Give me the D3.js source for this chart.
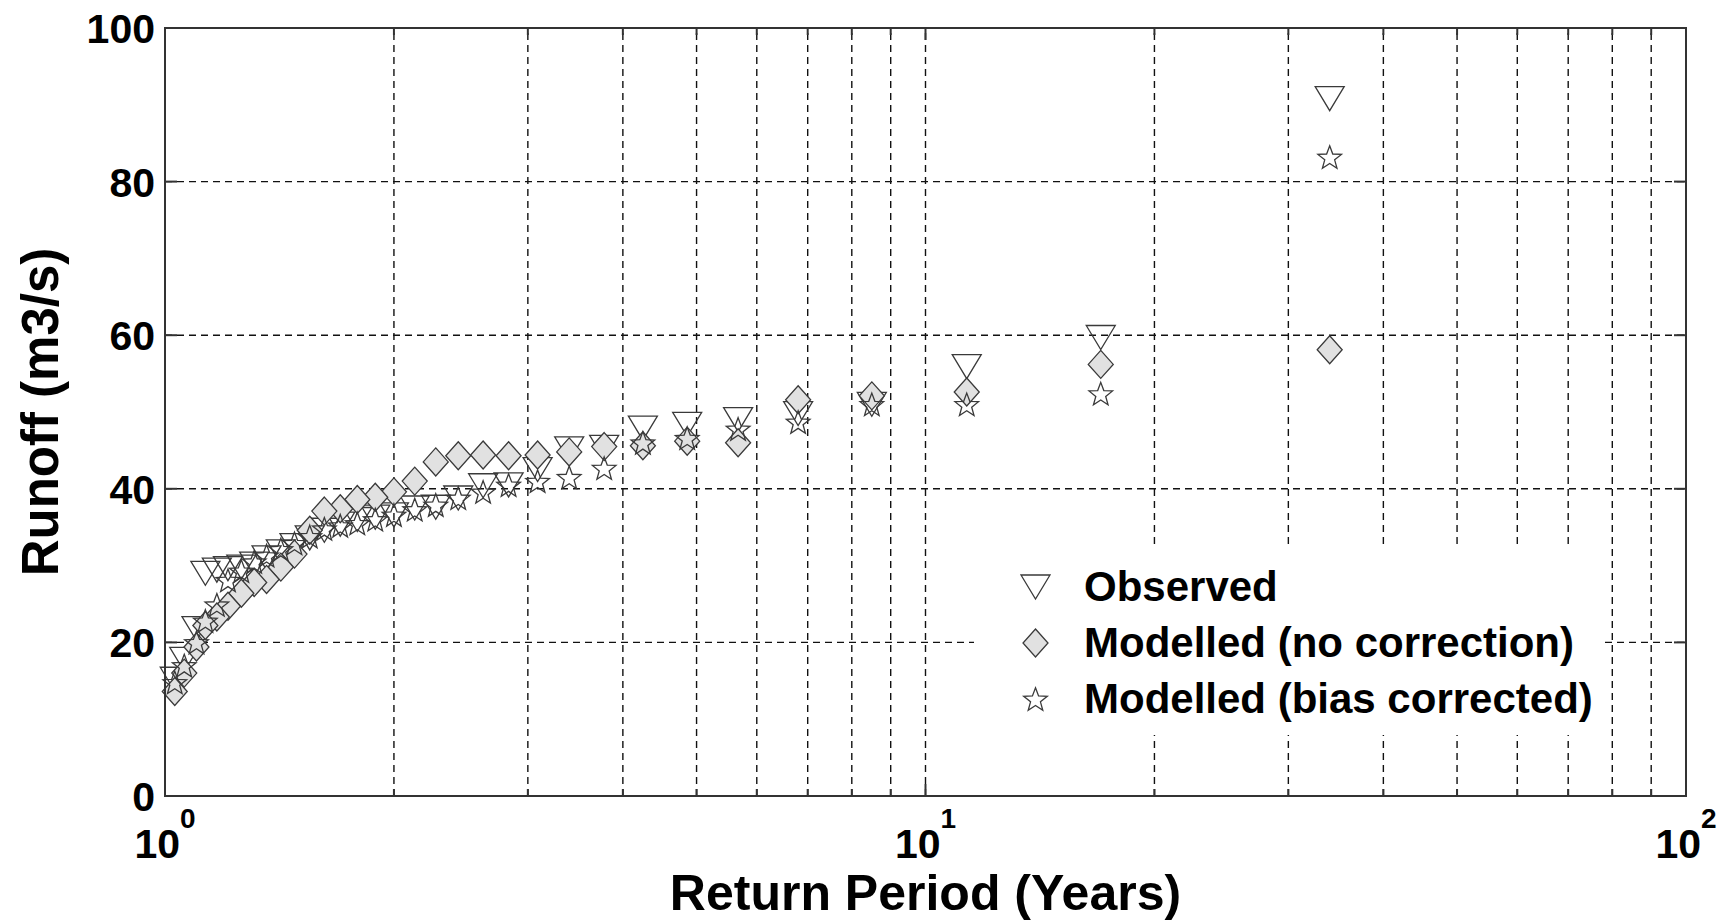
<!DOCTYPE html>
<html>
<head>
<meta charset="utf-8">
<script src="https://cdn.jsdelivr.net/npm/d3@7/dist/d3.min.js"></script>
<style>
  html, body { margin: 0; padding: 0; background: #fff; }
  svg { display: block; }
  text { font-family: "Liberation Sans", Arial, sans-serif; font-weight: bold; fill: #000; }
</style>
</head>
<body>
<svg id="chart" width="1728" height="924"></svg>
<script>
// ---- data ----
const returnPeriod = [34, 17, 11.33, 8.5, 6.8, 5.67, 4.86, 4.25, 3.78, 3.4, 3.09, 2.83, 2.62, 2.43, 2.27, 2.13, 2.0, 1.89, 1.79, 1.7, 1.62, 1.55, 1.48, 1.42, 1.36, 1.31, 1.26, 1.21, 1.17, 1.13, 1.10, 1.06, 1.03];
const observed = [90.8, 59.7, 55.9, 51.0, 49.8, 49.0, 48.4, 47.9, 45.4, 45.2, 42.5, 40.5, 40.4, 38.8, 37.6, 37.5, 36.6, 36.3, 36.0, 35.4, 34.6, 33.6, 32.6, 31.8, 31.0, 30.2, 29.8, 29.6, 29.4, 29.0, 21.8, 17.8, 15.2];
const modelledNoCorrection = [58.1, 56.2, 52.6, 52.1, 51.6, 46.0, 46.2, 45.6, 45.5, 44.8, 44.4, 44.3, 44.4, 44.3, 43.5, 41.0, 39.6, 38.9, 38.6, 37.4, 37.1, 34.6, 31.5, 29.8, 28.2, 27.8, 26.4, 24.7, 23.3, 22.2, 19.4, 16.0, 13.6];
const modelledBiasCorrected = [83.2, 52.4, 51.0, 51.0, 48.7, 47.8, 46.6, 46.0, 42.7, 41.5, 41.0, 40.5, 39.6, 38.8, 37.9, 37.3, 36.6, 36.0, 35.5, 35.2, 34.8, 33.8, 32.9, 32.1, 31.3, 30.5, 29.3, 28.1, 24.9, 22.8, 20.0, 17.0, 14.8];
const seriesNames = ["Observed", "Modelled (no correction)", "Modelled (bias corrected)"];
const yTicks = [0, 20, 40, 60, 80, 100];
const xMajorTicks = [1, 10, 100];
const xTickExponents = ["0", "1", "2"];
const xMinorTicks = [2, 3, 4, 5, 6, 7, 8, 9, 20, 30, 40, 50, 60, 70, 80, 90];
const xLabel = "Return Period (Years)";
const yLabel = "Runoff (m3/s)";

// ---- layout ----
const L = 165, R = 1686, T = 28, B = 796;
const svg = d3.select("#chart");
const x = d3.scaleLog().domain([1, 100]).range([L, R]);
const y = d3.scaleLinear().domain([0, 100]).range([B, T]);

// custom marker shapes for d3.symbol
const triDown = { draw(c) { c.moveTo(-14.5, -12); c.lineTo(14.5, -12); c.lineTo(0, 12); c.closePath(); } };
const diamond = { draw(c) { c.moveTo(0, -14); c.lineTo(12.5, 0); c.lineTo(0, 14); c.lineTo(-12.5, 0); c.closePath(); } };
const star = { draw(c) {
  const Ro = 12.4, Ri = Ro * 0.42, dy = 1.2;
  for (let i = 0; i < 10; i++) {
    const r = i % 2 === 0 ? Ro : Ri;
    const a = -Math.PI / 2 + i * Math.PI / 5;
    const px = r * Math.cos(a), py = r * Math.sin(a) + dy;
    if (i === 0) c.moveTo(px, py); else c.lineTo(px, py);
  }
  c.closePath();
} };
const markerStyles = [
  { type: triDown, fill: "none" },
  { type: diamond, fill: "#e1e1e1" },
  { type: star, fill: "none" }
];
const seriesData = [observed, modelledNoCorrection, modelledBiasCorrected];

// ---- grid ----
const grid = svg.append("g").attr("stroke", "#111").attr("stroke-width", 1.4).attr("stroke-dasharray", "7,5");
grid.selectAll(".hg").data(yTicks.filter(v => v > 0 && v < 100)).enter().append("line")
  .attr("x1", L).attr("x2", R).attr("y1", d => y(d)).attr("y2", d => y(d));
grid.selectAll(".vg").data(xMinorTicks.concat([10])).enter().append("line")
  .attr("y1", B).attr("y2", T).attr("x1", d => x(d)).attr("x2", d => x(d));

// ---- legend background (masks grid) ----
svg.append("rect").attr("x", 974).attr("y", 545).attr("width", 626).attr("height", 190).attr("fill", "#fff");

// ---- data markers ----
seriesData.forEach((vals, si) => {
  const sym = d3.symbol().type(markerStyles[si].type);
  svg.append("g").selectAll("path").data(vals.map((v, i) => [returnPeriod[i], v])).enter().append("path")
    .attr("d", sym)
    .attr("transform", d => `translate(${x(d[0])},${y(d[1])})`)
    .attr("fill", markerStyles[si].fill)
    .attr("stroke", "#3a3a3a").attr("stroke-width", 1.3);
});

// ---- frame & ticks ----
const axG = svg.append("g").attr("stroke", "#333").attr("stroke-width", 2);
axG.append("rect").attr("x", L).attr("y", T).attr("width", R - L).attr("height", B - T).attr("fill", "none");
yTicks.forEach(v => {
  axG.append("line").attr("x1", L).attr("x2", L + 12).attr("y1", y(v)).attr("y2", y(v));
  axG.append("line").attr("x1", R).attr("x2", R - 12).attr("y1", y(v)).attr("y2", y(v));
});
xMajorTicks.forEach(v => {
  axG.append("line").attr("x1", x(v)).attr("x2", x(v)).attr("y1", B).attr("y2", B - 12);
  axG.append("line").attr("x1", x(v)).attr("x2", x(v)).attr("y1", T).attr("y2", T + 12);
});
xMinorTicks.forEach(v => {
  axG.append("line").attr("x1", x(v)).attr("x2", x(v)).attr("y1", B).attr("y2", B - 7);
  axG.append("line").attr("x1", x(v)).attr("x2", x(v)).attr("y1", T).attr("y2", T + 7);
});

// ---- tick labels ----
svg.append("g").selectAll("text").data(yTicks).enter().append("text")
  .attr("x", 155).attr("y", d => y(d) + 15).attr("text-anchor", "end")
  .attr("font-size", 41).text(d => d);
const xt = svg.append("g").selectAll("text").data(xMajorTicks).enter().append("text")
  .attr("x", d => x(d)).attr("y", 858).attr("text-anchor", "middle").attr("font-size", 41);
xt.append("tspan").text("10");
xt.append("tspan").attr("dy", -30).attr("font-size", 28).text((d, i) => xTickExponents[i]);

// ---- axis labels ----
svg.append("text").attr("x", (L + R) / 2).attr("y", 910).attr("text-anchor", "middle")
  .attr("font-size", 50).text(xLabel);
svg.append("text").attr("transform", `translate(58,${(T + B) / 2}) rotate(-90)`)
  .attr("text-anchor", "middle").attr("font-size", 51).text(yLabel);

// ---- legend ----
const legendRows = [587, 643, 699];
seriesNames.forEach((name, i) => {
  svg.append("path").attr("d", d3.symbol().type(markerStyles[i].type))
    .attr("transform", `translate(1035.5,${legendRows[i]})`)
    .attr("fill", markerStyles[i].fill).attr("stroke", "#3a3a3a").attr("stroke-width", 1.3);
  svg.append("text").attr("x", 1084).attr("y", legendRows[i] + 14).attr("font-size", 42).text(name);
});
</script>
</body>
</html>
